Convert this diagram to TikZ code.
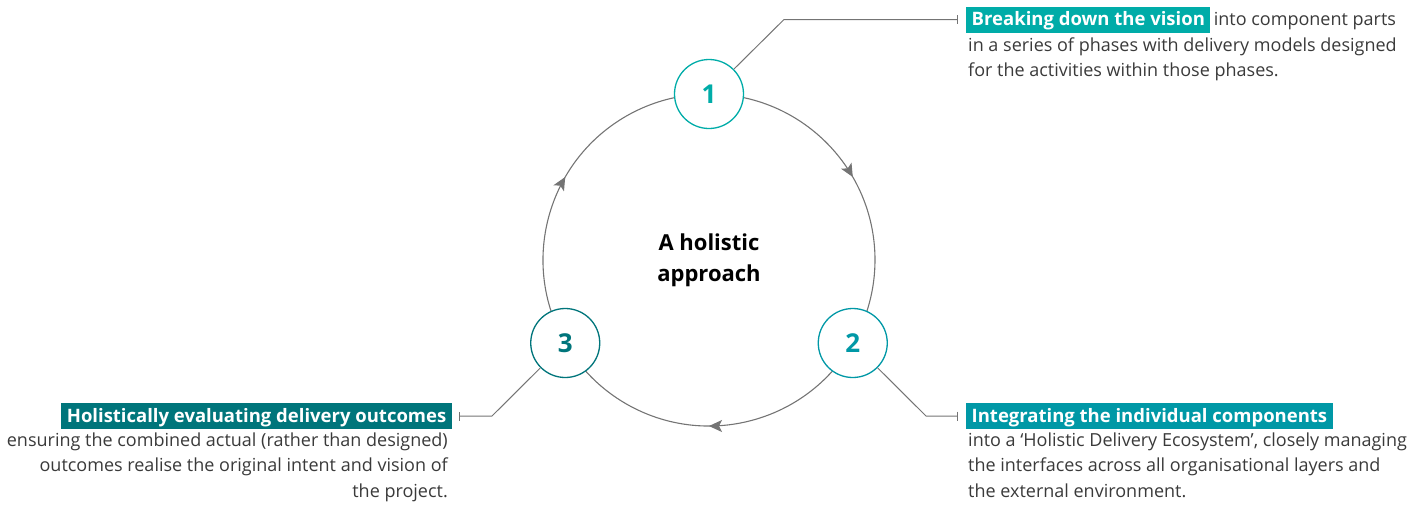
\documentclass[tikz,border=0pt]{standalone}
\usepackage{fontspec}
\setmainfont{Open Sans}
\usepackage{tikz}
\usetikzlibrary{calc,arrows.meta,decorations.markings}
\tikzset{>=stealth}

\definecolor{tealA}{HTML}{00ACA8}
\definecolor{tealB}{HTML}{0098A6}
\definecolor{tealC}{HTML}{00757B}
\definecolor{linegray}{HTML}{747474}
\definecolor{textgray}{HTML}{3A3A3A}

\tikzset{
  ring/.style={draw=linegray, line width=1.1pt, postaction={decorate},
    decoration={markings, mark=at position 0.5 with {\arrow{Stealth[length=13pt,width=12pt,inset=3pt]}}}},
  stage/.style={circle, draw=#1, fill=white, line width=1.3pt, minimum size=69pt,
    inner sep=0pt, text=#1, font=\fontsize{26}{26}\selectfont\bfseries},
  tag/.style={fill=#1, text=white, font=\fontsize{18.5}{18.5}\selectfont\bfseries,
    inner xsep=5.5pt, inner ysep=0pt, text height=19pt, text depth=7pt},
  body/.style={text=textgray, font=\fontsize{18}{25.5}\selectfont, inner sep=0pt},
  lead/.style={draw=linegray, line width=1pt, -{Bar[width=9pt,line width=1pt]}},
}

\begin{document}
\begin{tikzpicture}[x=1pt,y=-1pt]
  \useasboundingbox (0,0) rectangle (1424,504);
  \coordinate (hub) at (709,260);

  % the ring, one arc between each pair of stages
  \draw[ring] ($(hub)+(90:166pt)$) arc[start angle=90, end angle=-30, radius=166pt];
  \draw[ring] ($(hub)+(-30:166pt)$) arc[start angle=-30, end angle=-150, radius=166pt];
  \draw[ring] ($(hub)+(-150:166pt)$) arc[start angle=-150, end angle=-270, radius=166pt];

  \node[font=\fontsize{22}{31}\selectfont\bfseries, align=center] (title) at (709,260) {A holistic\\approach};

  \node[stage=tealA] (c1) at ($(hub)+(90:166pt)$) {1};
  \node[stage=tealB] (c2) at ($(hub)+(-30:166pt)$) {2};
  \node[stage=tealC] (c3) at ($(hub)+(-150:166pt)$) {3};

  % stage 1 (base anchor sits on the last line)
  \node[tag=tealA, anchor=west] (h1) at (966,19.5) {Breaking down the vision};
  \node[body, anchor=base west] (r1) at ([xshift=3pt]h1.base east) {into component parts};
  \node[body, anchor=base west, align=left] (b1) at (968,76.5) {in a series of phases with delivery models designed\\for the activities within those phases.};
  \coordinate (k1) at (784,19.5);
  \coordinate (e1) at (958,19.5);
  \draw[lead] (c1.45) -- (k1) -- (e1);

  % stage 2
  \node[tag=tealB, anchor=west] (h2) at (966,416) {Integrating the individual components};
  \node[body, anchor=base west, align=left] (b2) at (968,497) {into a ‘Holistic Delivery Ecosystem’, closely managing\\the interfaces across all organisational layers and\\the external environment.};
  \coordinate (k2) at (926,416);
  \coordinate (e2) at (958,416);
  \draw[lead] (c2.-45) -- (k2) -- (e2);

  % stage 3
  \node[tag=tealC, anchor=east] (h3) at (452,416) {Holistically evaluating delivery outcomes};
  \node[body, anchor=base east, align=right] (b3) at (448,497) {ensuring the combined actual (rather than designed)\\outcomes realise the original intent and vision of\\the project.};
  \coordinate (k3) at (492,416);
  \coordinate (e3) at (459,416);
  \draw[lead] (c3.225) -- (k3) -- (e3);
\end{tikzpicture}
\end{document}
